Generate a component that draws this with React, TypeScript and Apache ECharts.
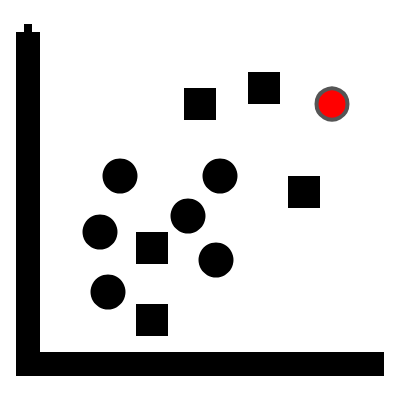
import React, { useEffect, useRef } from "react";
import * as echarts from "echarts";

// data in grid units (1 unit = 8px)
const squarePoints: [number, number][] = [
  [23, 34],
  [31, 36],
  [17, 16],
  [17, 7],
  [36, 23],
];
const blobPoints: [number, number][] = [
  [13, 25],
  [25.5, 25],
  [21.5, 20],
  [10.5, 18],
  [25, 14.5],
  [11.5, 10.5],
];
const highlightPoints: [number, number][] = [[39.5, 34]];

const xMax = 46;
const yMax = 43;

export default function App() {
  const ref = useRef<HTMLDivElement>(null);
  useEffect(() => {
    if (!ref.current) return;
    const chart = echarts.init(ref.current, null, { renderer: "svg" });
    chart.setOption({
      animation: false,
      backgroundColor: "#ffffff",
      grid: { left: 16, right: 16, top: 32, bottom: 25, containLabel: false },
      xAxis: {
        type: "value",
        min: 0,
        max: xMax,
        offset: -12,
        axisLine: { show: true, onZero: false, lineStyle: { color: "#000", width: 24, cap: "butt" } },
        axisTick: { show: false },
        axisLabel: { show: false },
        splitLine: { show: false },
      },
      yAxis: {
        type: "value",
        min: 0,
        max: yMax,
        offset: -12,
        axisLine: { show: true, onZero: false, lineStyle: { color: "#000", width: 24, cap: "butt" } },
        axisTick: { show: false },
        axisLabel: { show: false },
        splitLine: { show: false },
      },
      graphic: [
        { type: "rect", shape: { x: 24, y: 24, width: 8, height: 8 }, style: { fill: "#000" } },
      ],
      series: [
        {
          type: "scatter",
          data: squarePoints,
          symbol: "rect",
          symbolSize: 32,
          itemStyle: { color: "#000", opacity: 1 },
        },
        {
          type: "scatter",
          data: blobPoints,
          symbol: "circle",
          symbolSize: 35,
          itemStyle: { color: "#000", opacity: 1 },
        },
        {
          type: "scatter",
          data: highlightPoints,
          symbol: "circle",
          symbolSize: 31,
          itemStyle: { color: "#ff0000", borderColor: "#555555", borderWidth: 4, opacity: 1 },
        },
      ],
    });
    return () => chart.dispose();
  }, []);
  return (
    <div
      ref={ref}
      style={{ position: "fixed", left: 0, top: 0, width: 400, height: 401, background: "#fff" }}
    />
  );
}
